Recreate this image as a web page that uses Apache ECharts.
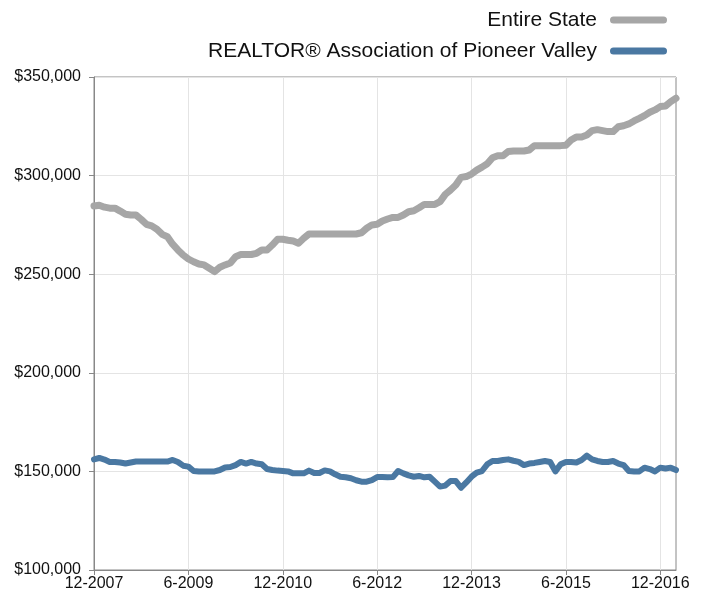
<!DOCTYPE html>
<html>
<head>
<meta charset="utf-8">
<script src="https://cdn.jsdelivr.net/npm/echarts@6/dist/echarts.min.js"></script>
<style>
  html, body { margin: 0; padding: 0; background: #fff; }
  #chart { width: 707px; height: 596px; }
</style>
</head>
<body>
<div id="chart"></div>
<script>
// months 12-2007 .. 3-2017
var months = [];
for (var k = 0; k < 112; k++) {
  var m = (11 + k) % 12 + 1;
  var y = 2007 + Math.floor((11 + k) / 12);
  months.push(m + "-" + y);
}

var entireState = [
  284600, 285000, 284000, 283500, 283500, 282000, 280400, 280000, 280000, 277800,
  275300, 274500, 272800, 270200, 269000, 265200, 262300, 259700, 257700, 256300,
  255200, 254700, 253000, 251300, 253500, 254700, 255700, 258900, 260000, 260000,
  260000, 260600, 262300, 262300, 264800, 267700, 267700, 267200, 266800, 265700,
  268200, 270400, 270400, 270400, 270400, 270400, 270400, 270400, 270400, 270400,
  270400, 271000, 273300, 275000, 275300, 277000, 278000, 278800, 278800, 280000,
  281700, 282200, 283700, 285400, 285400, 285400, 286800, 290500, 292700, 295200,
  299100, 299500, 300800, 302800, 304300, 306000, 309100, 310100, 310100, 312200,
  312500, 312500, 312500, 313000, 315200, 315200, 315200, 315200, 315200, 315200,
  315400, 318000, 319600, 319600, 320600, 322800, 323300, 322800, 322300, 322300,
  324800, 325300, 326200, 327700, 329000, 330400, 332100, 333300, 335000, 335300,
  337500, 339200
];

var pioneerValley = [
  156100, 156800, 156000, 154800, 154800, 154500, 154000, 154500, 155000, 155000,
  155000, 155000, 155000, 155000, 155000, 155800, 154800, 152900, 152400, 150200,
  150000, 150000, 150000, 150000, 150700, 152000, 152200, 153200, 154800, 154000,
  154800, 154000, 153600, 151200, 150700, 150400, 150200, 150000, 149000, 149000,
  149000, 150400, 149200, 149200, 150500, 150000, 148500, 147300, 147000, 146500,
  145500, 144800, 144800, 145600, 147100, 147100, 147000, 147100, 150200, 149000,
  148000, 147300, 147700, 147000, 147300, 144800, 142300, 142800, 145100, 145100,
  141700, 144400, 147300, 149400, 150200, 153600, 155300, 155300, 155800, 156100,
  155400, 154800, 153200, 154000, 154300, 154800, 155300, 154800, 150000, 153600,
  154800, 154800, 154500, 155800, 158000, 156100, 155300, 154800, 154800, 155300,
  154000, 153200, 150200, 150000, 150000, 151900, 151200, 150000, 151900, 151500,
  151900, 150700
];

var seriesNames = ["Entire State", "REALTOR® Association of Pioneer Valley"];
var colors = ["#a6a6a6", "#4a78a2"];

// rounded bar used as legend key
var capsule = "path://M3.5,0 L53.5,0 A3.5,3.5 0 0 1 53.5,7 L3.5,7 A3.5,3.5 0 0 1 3.5,0 Z";

function money(v) {
  return "$" + String(v).replace(/\B(?=(\d{3})+(?!\d))/g, ",");
}

var chart = echarts.init(document.getElementById("chart"));
chart.setOption({
  animation: false,
  textStyle: { fontFamily: "Liberation Sans, Arial, sans-serif" },
  legend: {
    orient: "vertical",
    right: 35,
    top: 4,
    align: "right",
    itemWidth: 57,
    itemHeight: 7,
    itemGap: 9,
    icon: capsule,
    selectedMode: false,
    textStyle: { fontSize: 21, color: "#111", lineHeight: 22, padding: [0, 8, 0, 0] },
    data: seriesNames
  },
  grid: {
    left: 94, right: 31, top: 77, bottom: 26,
    show: true, borderColor: "#888", borderWidth: 1
  },
  xAxis: {
    type: "category",
    boundaryGap: false,
    data: months,
    axisLine: { lineStyle: { color: "#888" } },
    axisTick: { interval: 17, length: 5, lineStyle: { color: "#888" } },
    axisLabel: { interval: 17, fontSize: 16, color: "#111", margin: 6 },
    splitLine: { show: true, interval: 17, lineStyle: { color: "#e4e4e4" } }
  },
  yAxis: {
    type: "value",
    min: 100000,
    max: 350000,
    interval: 50000,
    axisLine: { show: true, lineStyle: { color: "#888" } },
    axisTick: { show: true, length: 5, lineStyle: { color: "#888" } },
    axisLabel: { fontSize: 16, color: "#111", margin: 13, formatter: money },
    splitLine: { lineStyle: { color: "#e4e4e4" } }
  },
  series: [
    {
      name: seriesNames[0], type: "line", data: entireState,
      showSymbol: false, color: colors[0],
      lineStyle: { width: 7, color: colors[0], join: "round", cap: "round" }
    },
    {
      name: seriesNames[1], type: "line", data: pioneerValley,
      showSymbol: false, color: colors[1],
      lineStyle: { width: 6, color: colors[1], join: "round", cap: "round" }
    }
  ]
});
</script>
</body>
</html>
